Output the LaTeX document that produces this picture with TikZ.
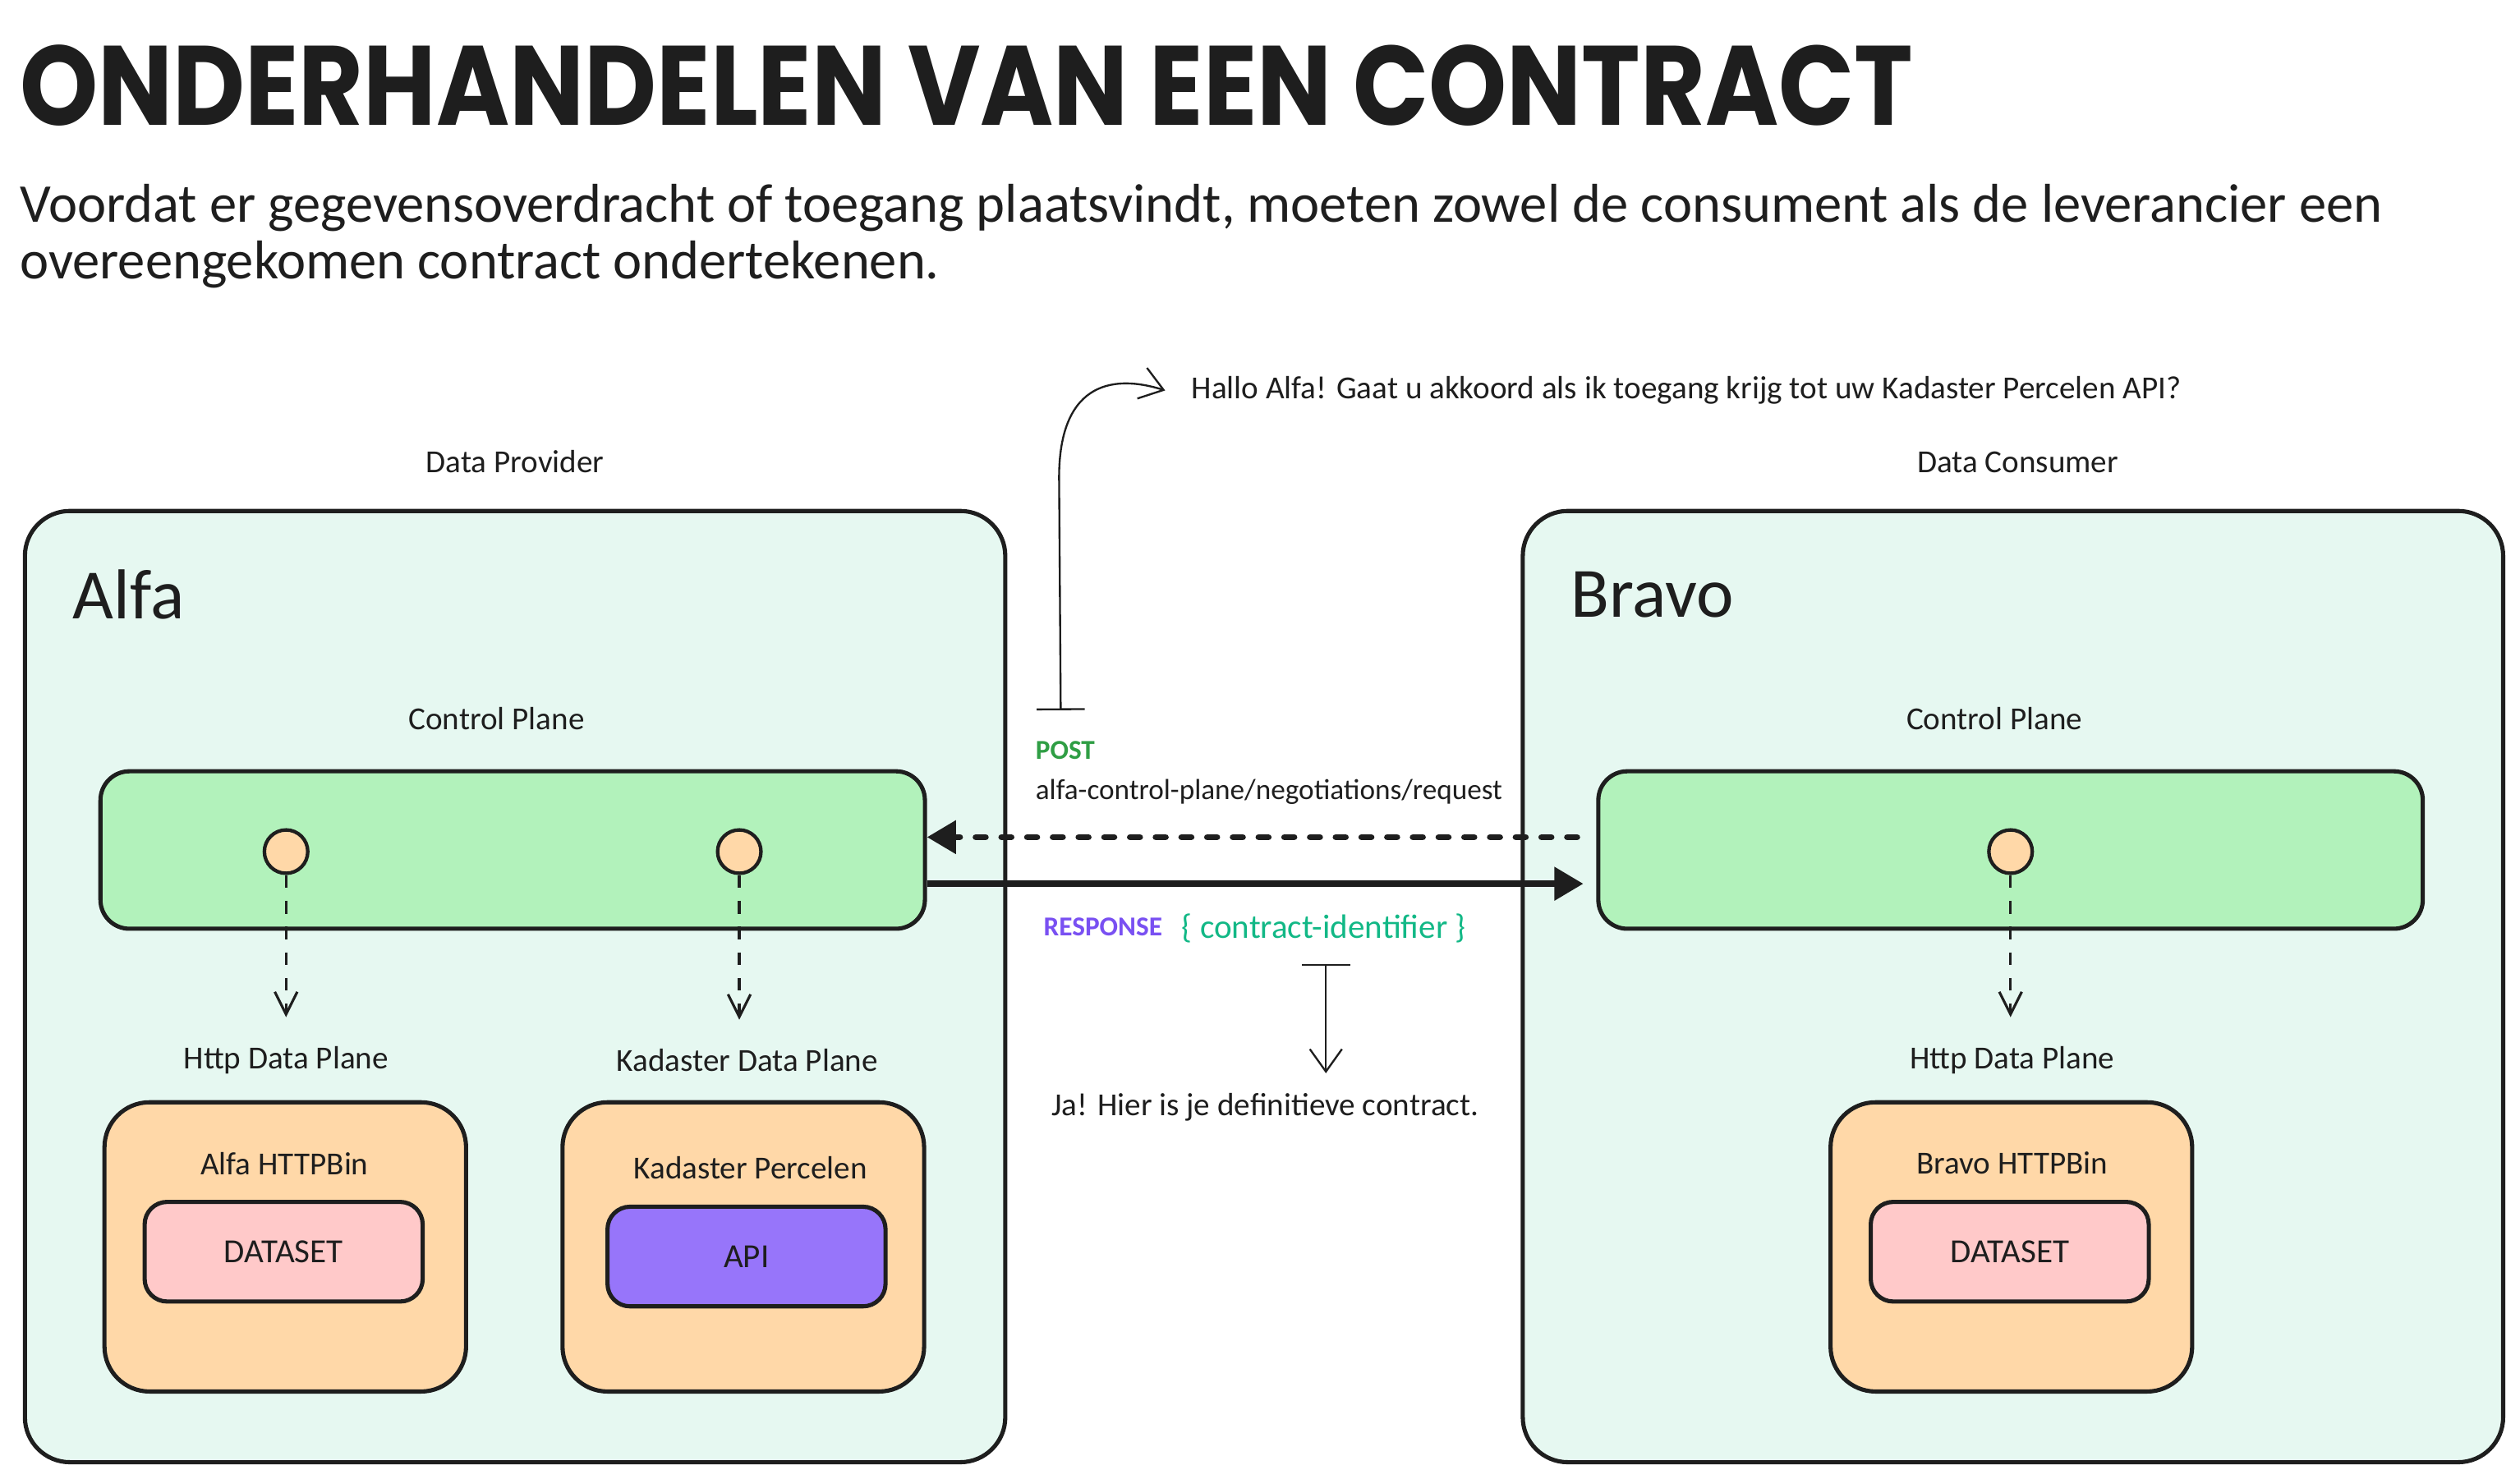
\documentclass[tikz,border=0pt]{standalone}
\usepackage{fontspec}
\setmainfont{Carlito}
\newfontfamily\headfont{Poppins}
\usepackage{graphicx}
\usepackage{tikz}
\usetikzlibrary{arrows.meta,positioning}

\definecolor{ink}{HTML}{1E1E1E}
\definecolor{mint}{HTML}{E6F8F1}
\definecolor{planegreen}{HTML}{B2F2BB}
\definecolor{peach}{HTML}{FFD8A8}
\definecolor{rose}{HTML}{FFC9C9}
\definecolor{apiviolet}{HTML}{9775FA}
\definecolor{postgreen}{HTML}{2F9E44}
\definecolor{respviolet}{HTML}{7950F2}
\definecolor{idteal}{HTML}{12B886}

\begin{document}
\begin{tikzpicture}[
  x=0.5pt,y=-0.5pt,
  panel/.style={draw=ink,line width=1.3pt,fill=mint,rounded corners=14pt,
    minimum width=305pt,minimum height=296pt},
  plane/.style={draw=ink,line width=1.3pt,fill=planegreen,rounded corners=9pt,
    minimum width=256.5pt,minimum height=49pt},
  port/.style={circle,draw=ink,line width=1.1pt,fill=peach,minimum size=13.5pt,inner sep=0pt},
  service/.style={draw=ink,line width=1.3pt,fill=peach,rounded corners=14pt,
    minimum width=112.5pt,minimum height=90pt},
  asset/.style={draw=ink,line width=1.3pt,rounded corners=7pt,minimum width=86.5pt,
    minimum height=31pt,font=\fontsize{10.5}{12}\selectfont,text=ink},
  lbl/.style={font=\fontsize{10}{12}\selectfont,text=ink,inner sep=1pt},
  hint/.style={font=\fontsize{10}{12}\selectfont,text=ink,inner sep=1pt},
  owner/.style={font=\fontsize{22}{24}\selectfont,text=ink,inner sep=0pt,anchor=west},
  flow/.style={-{Straight Barb[length=7pt,width=7pt]},line width=.8pt,draw=ink,
    dash pattern=on 4pt off 4pt},
  call/.style={{Bar[width=15pt]}-{Straight Barb[length=7pt,width=10pt]},line width=.6pt,draw=ink},
  req/.style={-{Triangle[length=9pt,width=10pt]},line width=2pt,draw=ink,
    line cap=round,dash pattern=on 3pt off 5pt},
  resp/.style={-{Triangle[length=9pt,width=10pt]},line width=2pt,draw=ink}
]
\path[use as bounding box,fill=white] (0,0) rectangle (1568,920);

% heading
\node[anchor=west,inner sep=0pt,text=ink] (title) at (12,53)
  {\resizebox{589pt}{25pt}{\headfont\bfseries ONDERHANDELEN VAN EEN CONTRACT}};
\node[anchor=north west,align=left,inner sep=0pt,text=ink,
  font=\fontsize{17}{17.8}\selectfont] (intro) at (12,114)
  {Voordat er gegevensoverdracht of toegang plaatsvindt, moeten zowel de consument als de leverancier een\\
   overeengekomen contract ondertekenen.};

% provider side
\node[panel] (alfa) at (320.5,614) {};
\node[lbl,above=10pt of alfa] (provlbl) {Data Provider};
\node[owner] (alfaname) at (45,370) {Alfa};
\node[lbl] (alfacplbl) at (309,447) {Control Plane};
\node[plane] (alfacp) at (319,529) {};
\node[port] (alfaport1) at (178,530) {};
\node[port] (alfaport2) at (460,530) {};
\node[lbl] (alfahttplbl) at (178,660) {Http Data Plane};
\node[lbl] (kadlbl) at (465,660) {Kadaster Data Plane};
\node[service] (alfahttp) at (177.5,776) {};
\node[lbl] (alfahttpname) at (177,724) {Alfa HTTPBin};
\node[asset,fill=rose] (alfads) at (176.5,779) {DATASET};
\node[service] (kadbox) at (462.5,776) {};
\node[lbl] (kadname) at (467,727) {Kadaster Percelen};
\node[asset,fill=apiviolet] (kadapi) at (464.5,782) {API};

% consumer side
\node[panel] (bravo) at (1252.5,614) {};
\node[lbl,above=10pt of bravo,xshift=1.5pt] (conslbl) {Data Consumer};
\node[owner] (bravoname) at (977,370) {Bravo};
\node[lbl] (bravocplbl) at (1241,447) {Control Plane};
\node[plane] (bravocp) at (1251,529) {};
\node[port] (bravoport) at (1251,530) {};
\node[lbl] (bravohttplbl) at (1252,660) {Http Data Plane};
\node[service] (bravohttp) at (1251.5,776) {};
\node[lbl] (bravohttpname) at (1252,724) {Bravo HTTPBin};
\node[asset,fill=rose] (bravods) at (1250.5,779) {DATASET};

\draw[flow,shorten >=8pt] (alfaport1) -- (alfaport1 |- alfahttplbl.north);
\draw[flow,shorten >=8pt] (alfaport2) -- (alfaport2 |- kadlbl.north);
\draw[flow,shorten >=8pt] (bravoport) -- (bravoport |- bravohttplbl.north);

% negotiation
\node[anchor=west,inner sep=0pt,text=postgreen,font=\fontsize{8.5}{10}\selectfont\bfseries] (post) at (644,467) {POST};
\node[anchor=west,inner sep=0pt,text=ink,font=\fontsize{9}{11}\selectfont] (postpath) at (644,493) {alfa-control-plane/negotiations/request};
\node[anchor=west,inner sep=0pt,text=respviolet,font=\fontsize{8.5}{10}\selectfont\bfseries] (response) at (649,577) {RESPONSE};
\node[anchor=west,inner sep=0pt,text=idteal,font=\fontsize{10.5}{12}\selectfont] (contractid) at (735,578) {\{ contract-identifier \}};
\draw[req,shorten <=6pt] ([yshift=4pt]bravocp.west) -- ([yshift=4pt]alfacp.east);
\draw[resp,shorten >=4pt] ([yshift=-10.5pt]alfacp.east) -- ([yshift=-10.5pt]bravocp.west);

\node[hint,anchor=west] (ask) at (739,243) {Hallo Alfa! Gaat u akkoord als ik toegang krijg tot uw Kadaster Percelen API?};
\node[hint,anchor=west] (answer) at (652,689) {Ja! Hier is je definitieve contract.};
\coordinate (askfoot) at (660,442);
\coordinate (replyfoot) at (825,600);
\draw[call] (askfoot) -- (659,300) .. controls (658,240) and (690,232) .. ([xshift=-7pt]ask.west);
\draw[call,shorten >=5pt] (replyfoot) -- (answer.north -| replyfoot);
\end{tikzpicture}
\end{document}
